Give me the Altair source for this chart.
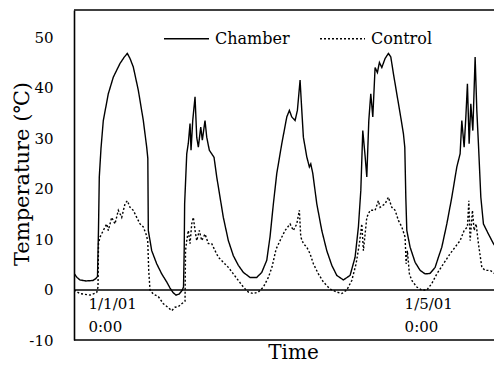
import altair as alt
import pandas as pd

# ---- data (hours since 1/1/01 0:00, temperature in deg C) ----
CHAMBER_HOURS = [-4.25, -3.34, -2.43, -0.61, 1.52, 2.43, 2.89, 3.19, 3.43, 3.95, 4.65, 6.17, 7.69, 9.72,
                 10.94, 11.94, 12.76, 13.76, 15.28, 16.80, 17.83, 18.17, 18.32, 19.35, 20.87, 22.39, 23.91,
                 24.91, 25.82, 26.73, 27.65, 28.56, 29.01, 29.22, 29.35, 29.99, 30.47, 30.99, 31.29, 31.81,
                 32.51, 33.02, 33.51, 34.24, 34.72, 35.54, 36.06, 36.85, 37.58, 38.28, 39.10, 40.10, 41.10,
                 42.62, 44.14, 45.66, 47.18, 49.22, 51.25, 52.77, 54.29, 55.29, 56.30, 57.33, 58.85, 60.37,
                 61.16, 61.89, 62.89, 63.59, 64.41, 64.93, 65.41, 66.44, 67.23, 67.66, 68.27, 69.48, 71.00,
                 72.52, 74.04, 75.56, 77.56, 79.59, 81.11, 82.12, 82.85, 83.45, 84.15, 84.67, 85.28, 85.88,
                 86.49, 87.19, 87.89, 88.50, 89.23, 90.23, 91.23, 91.96, 92.75, 93.78, 94.79, 95.79, 96.21,
                 96.52, 96.82, 97.82, 99.34, 100.86, 102.38, 103.90, 105.42, 106.42, 107.45, 108.97, 110.49,
                 112.01, 113.01, 113.53, 114.23, 114.75, 115.23, 115.75, 116.26, 116.87, 117.57, 118.08,
                 118.57, 119.30, 120.09, 121.61, 123.13, 124.65, 125.77]
CHAMBER_TEMPS = [3.2, 2.4, 1.9, 1.7, 1.8, 2.2, 2.6, 12.0, 22.3, 28.0, 33.5, 38.8, 42.1, 44.8,
                 46.0, 46.8, 45.8, 44.1, 39.5, 33.5, 28.2, 26.0, 11.7, 7.7, 5.1, 3.1, 1.5,
                 0.3, -0.6, -1.1, -0.9, -0.2, 0.5, 8.0, 17.0, 26.9, 29.0, 32.9, 27.6, 33.5,
                 38.2, 30.2, 28.2, 32.2, 29.6, 33.5, 30.2, 27.6, 26.9, 26.2, 22.3, 18.3, 14.3,
                 9.7, 6.7, 4.8, 3.4, 2.4, 2.4, 3.4, 5.8, 10.5, 17.0, 23.0, 28.9, 34.2,
                 35.5, 34.2, 33.5, 35.5, 41.5, 35.5, 30.2, 26.3, 24.3, 24.9, 23.0, 17.0, 11.7,
                 7.7, 4.8, 2.8, 1.9, 2.8, 6.4, 12.4, 19.6, 31.5, 26.5, 22.3, 33.5, 38.8,
                 34.2, 44.0, 43.0, 45.0, 44.0, 45.8, 46.8, 46.1, 42.8, 38.8, 34.9, 30.9, 28.2,
                 18.3, 11.7, 8.4, 5.4, 3.8, 3.1, 3.2, 4.4, 6.4, 8.4, 13.0, 18.3,
                 24.3, 26.9, 33.5, 28.2, 34.2, 40.8, 28.9, 36.8, 31.5, 46.1, 35.5,
                 28.9, 18.3, 13.0, 11.0, 9.1, 7.7, 6.4]

CONTROL_HOURS = [-4.25, -2.43, 0.61, 2.64, 3.04, 3.19, 3.65, 4.65, 5.68, 6.17, 7.20, 8.20, 9.21, 10.24,
                 11.24, 11.94, 12.76, 13.76, 14.79, 15.80, 16.80, 17.62, 18.14, 18.44, 18.84, 19.84, 21.36,
                 22.88, 24.40, 25.43, 26.43, 27.43, 28.47, 29.47, 29.62, 29.99, 30.47, 30.99, 31.50, 31.99,
                 32.51, 33.02, 33.81, 34.54, 35.54, 36.55, 37.58, 38.58, 39.59, 41.10, 42.62, 44.14, 45.66,
                 47.18, 48.70, 50.22, 51.74, 53.26, 54.78, 55.90, 57.11, 58.33, 59.85, 61.37, 62.37, 63.40,
                 64.19, 64.62, 65.41, 66.44, 67.44, 68.45, 69.97, 71.48, 73.52, 75.56, 77.07, 78.59, 80.11,
                 81.42, 82.42, 83.15, 83.64, 84.67, 85.67, 87.19, 88.19, 88.71, 90.23, 91.23, 92.26, 93.27,
                 94.27, 95.30, 96.30, 96.61, 97.00, 97.61, 98.34, 99.86, 101.38, 102.90, 104.42, 105.94,
                 107.94, 109.97, 111.49, 113.01, 114.23, 115.23, 115.66, 116.05, 116.75, 117.27, 117.87,
                 118.57, 119.60, 120.61, 122.13, 123.65, 125.77]
CONTROL_TEMPS = [-0.1, -0.8, -1.1, -0.6, 0.5, 9.1, 10.4, 11.7, 13.0, 11.7, 14.3, 13.0, 15.7, 14.3,
                 17.0, 17.6, 16.3, 15.7, 14.3, 13.0, 12.4, 11.0, 9.7, 3.8, -0.1, -0.9, -1.4,
                 -2.8, -3.6, -4.2, -3.5, -3.4, -2.8, -2.3, 7.7, 9.7, 11.7, 9.1, 13.0, 14.3,
                 11.7, 9.7, 11.7, 9.7, 11.0, 9.1, 9.1, 7.7, 6.4, 5.4, 4.4, 3.1, 1.8,
                 0.5, -0.5, -0.8, -0.5, 0.5, 2.4, 4.5, 8.0, 9.7, 11.7, 13.0, 11.7, 13.0,
                 15.7, 10.4, 9.1, 8.4, 7.1, 5.1, 3.1, 1.5, 0.1, -0.5, -0.8, -0.1, 1.8,
                 5.1, 9.1, 13.0, 7.7, 14.3, 15.7, 15.7, 17.6, 16.3, 17.0, 18.3, 16.3, 15.7,
                 13.7, 12.4, 10.4, 5.1, 7.7, 3.1, 1.8, 0.5, -0.1, -0.1, 1.2, 3.1,
                 5.1, 7.1, 8.4, 9.7, 11.7, 12.4, 17.6, 9.7, 15.7, 11.7, 13.0,
                 9.1, 4.4, 3.8, 3.8, 3.1, 2.4]

SERIES = ["Chamber", "Control"]
TICK_HOURS = [0, 96]
TICK_LABELS = [["1/1/01", "0:00"], ["1/5/01", "0:00"]]
Y_TICKS = [-10, 0, 10, 20, 30, 40, 50]
X_DOMAIN = [-4.25, 123.3]   # the reference frame runs past the window edge; the view stops at 494px
Y_DOMAIN = [-10, 55.4]

# ---- layout ----
W, H = 420, 330
FONT = "DejaVu Serif"
zero_offset = -H * (0 - Y_DOMAIN[0]) / (Y_DOMAIN[1] - Y_DOMAIN[0])

df = pd.concat([
    pd.DataFrame({"hour": CHAMBER_HOURS, "temp": CHAMBER_TEMPS, "series": SERIES[0]}),
    pd.DataFrame({"hour": CONTROL_HOURS, "temp": CONTROL_TEMPS, "series": SERIES[1]}),
], ignore_index=True)

label_expr = ""
for h, lab in zip(TICK_HOURS, TICK_LABELS):
    label_expr += "datum.value == %s ? [%s] : " % (h, ", ".join("'%s'" % s for s in lab))
label_expr += "''"

lines = alt.Chart(df).mark_line(color="black", strokeWidth=1.4, clip=True).encode(
    x=alt.X("hour:Q",
            scale=alt.Scale(domain=X_DOMAIN, nice=False, zero=False),
            axis=alt.Axis(values=TICK_HOURS, labelExpr=label_expr, orient="bottom",
                          offset=zero_offset, ticks=False, grid=False,
                          domainColor="black", domainWidth=1.6,
                          labelAlign="left", labelBaseline="top", labelPadding=7,
                          labelLineHeight=23, labelFontSize=15, labelFont=FONT,
                          labelColor="black", labelFlush=False, labelOverlap=False,
                          title="Time", titleFont=FONT, titleFontSize=20,
                          titleFontWeight="normal", titleColor="black",
                          titleX=219, titleY=69, titleBaseline="alphabetic",
                          titleAlign="center")),
    y=alt.Y("temp:Q",
            scale=alt.Scale(domain=Y_DOMAIN, nice=False, zero=False),
            axis=alt.Axis(values=Y_TICKS, ticks=False, grid=False,
                          domainColor="black", domainWidth=1.6,
                          labelExpr="datum.value < 0 ? '-' + abs(datum.value) : datum.label",
                          labelPadding=21, labelFontSize=15, labelFont=FONT,
                          labelColor="black",
                          title="Temperature (℃)", titleFont=FONT, titleFontSize=21,
                          titleFontWeight="normal", titleColor="black",
                          titleX=-42, titleY=163.5, titleAngle=270,
                          titleBaseline="bottom", titleAlign="center")),
    strokeDash=alt.StrokeDash("series:N",
                              scale=alt.Scale(domain=SERIES, range=[[1, 0], [2, 2]]),
                              legend=alt.Legend(orient="none", legendX=89, legendY=5,
                                                direction="horizontal", title=None,
                                                symbolType="stroke", symbolSize=2025,
                                                symbolStrokeColor="black",
                                                symbolStrokeWidth=1.5,
                                                labelFont=FONT, labelFontSize=16,
                                                labelColor="black", labelOffset=5,
                                                columnPadding=27)),
)

one = alt.Data(values=[{"k": 1}])
top_rule = alt.Chart(one).mark_rule(color="black", strokeWidth=1.6).encode(
    x=alt.value(0), x2=alt.value(W), y=alt.value(0))
bottom_rule = alt.Chart(one).mark_rule(color="black", strokeWidth=1.6).encode(
    x=alt.value(0), x2=alt.value(W), y=alt.value(H))

chart = alt.layer(lines, top_rule, bottom_rule).properties(
    width=W, height=H,
    padding={"left": 66, "top": 2, "right": 0, "bottom": 24},
    autosize=alt.AutoSizeParams(type="none"),
    background="white",
).configure_view(stroke=None)

chart.save("out.html", embed_options={"renderer": "svg", "actions": False})
